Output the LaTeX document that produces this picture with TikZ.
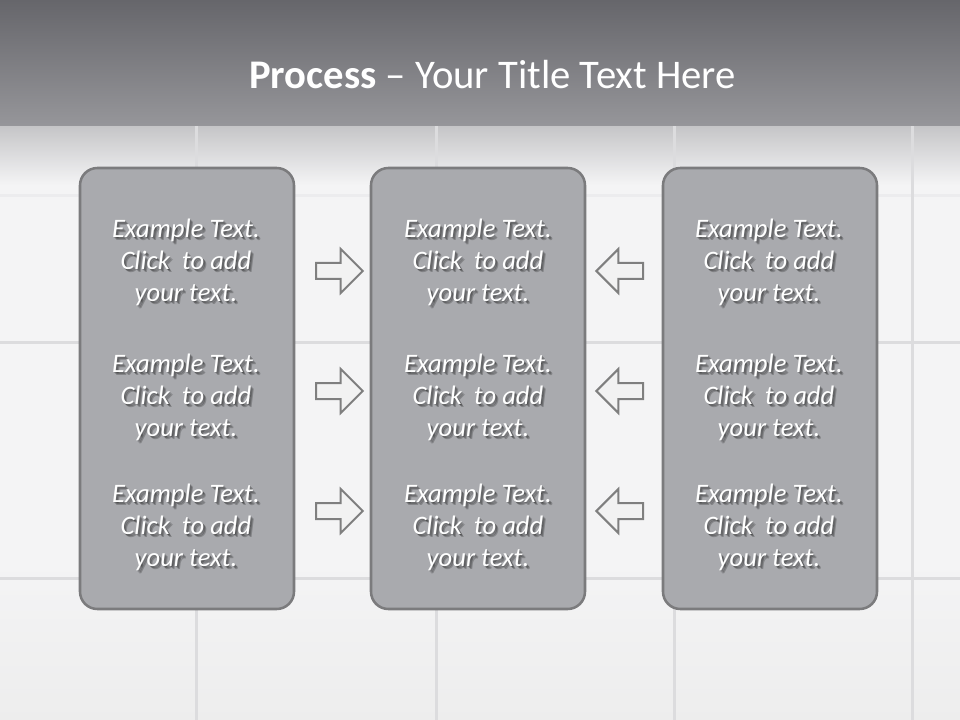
\documentclass[tikz,border=0pt]{standalone}
\usepackage{fontspec}
\setmainfont{Carlito}
\usetikzlibrary{shapes.arrows,positioning}

\definecolor{hdtop}{HTML}{66666B}
\definecolor{hdbot}{HTML}{96969A}
\definecolor{wall}{HTML}{F4F4F5}
\definecolor{joint}{HTML}{DCDCDE}
\definecolor{panelfill}{HTML}{A9AAAE}
\definecolor{panelline}{HTML}{7B7B7D}
\definecolor{arrowfill}{HTML}{F2F2F2}
\definecolor{arrowline}{HTML}{7F7F7F}

\tikzset{
  panel/.style={draw=panelline, line width=1.9pt, fill=panelfill,
    rounded corners=13pt, minimum width=160.5pt, minimum height=330.75pt, inner sep=0pt},
  fatarrow/.style={single arrow, draw=arrowline, fill=arrowfill, line width=1.5pt,
    inner sep=5.25pt, single arrow head extend=10.5pt, minimum height=35pt, anchor=tail},
  blurb/.style={text=white, font=\fontsize{20}{24}\selectfont\itshape, align=center},
  blurbshadow/.style={blurb, text=black, opacity=0.22}
}

\begin{document}
\begin{tikzpicture}[x=0.75pt,y=-0.75pt]
  \useasboundingbox (0,0) rectangle (960,720);

  %%% wall and tiles %%%
  \fill[wall] (0,0) rectangle (960,720);
  \shade[top color=wall, bottom color=black!7] (0,560) rectangle (960,720);
  \shade[top color=hdbot!55, bottom color=wall] (0,126) rectangle (960,185);
  \foreach \y in {342,578}{ \draw[joint, line width=2.25pt] (0,\y) -- (960,\y); }
  \draw[joint, opacity=.3, line width=2.25pt] (0,196) -- (960,196);
  \foreach \x in {196,436,674,912}{ \draw[joint, line width=2.25pt] (\x,126) -- (\x,720); }

  %%% title bar %%%
  \shade[top color=hdtop, bottom color=hdbot] (0,0) rectangle (960,126);
  \node[text=white, font=\fontsize{30.5}{36}\selectfont] (title) at (492.5,75)
    {\textbf{Process} – Your Title Text Here};

  %%% panels %%%
  \node[panel] (left) at (187,388.5) {};
  \node[panel] (middle) at (478,388.5) {};
  \node[panel] (right) at (770,388.5) {};

  %%% texts %%%
  \foreach \p/\x in {left/186, middle/478, right/769}{
    \foreach \r/\y in {1/262, 2/397, 3/527}{
      \foreach \d in {1,2,3}{
        \node[blurbshadow] (\p-\r-s\d) at (\x+\d,\y+\d) {Example Text.\\Click\ \ to add\\your text.};
      }
      \node[blurb] (\p-\r) at (\x,\y) {Example Text.\\Click\ \ to add\\your text.};
    }
  }

  %%% arrows %%%
  \foreach \r/\y in {1/271, 2/391, 3/511}{
    \node[fatarrow] (ra-\r) at (315,\y) {};
    \node[fatarrow, shape border rotate=180] (la-\r) at (644,\y) {};
  }

\end{tikzpicture}
\end{document}
